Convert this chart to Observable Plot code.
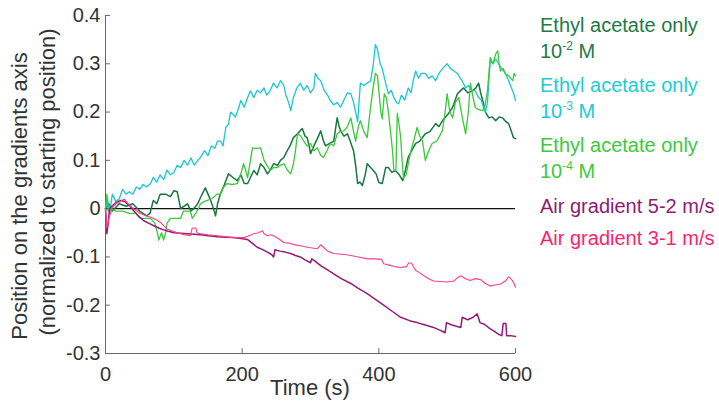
<!DOCTYPE html>
<html>
<head>
<meta charset="utf-8">
<script src="https://cdn.jsdelivr.net/npm/d3@7"></script>
<script src="https://cdn.jsdelivr.net/npm/@observablehq/plot@0.6"></script>
<style>
  html, body { margin: 0; padding: 0; background: #fff; }
  #chart svg { display: block; overflow: visible; }
</style>
</head>
<body>
<div id="chart"></div>
<script>
// ---------- data ----------
const xTicks = [0, 200, 400, 600];
const yTicks = [-0.3, -0.2, -0.1, 0, 0.1, 0.2, 0.3, 0.4];

const seriesNames = [
  "Ethyl acetate only 10-2 M",
  "Ethyl acetate only 10-3 M",
  "Ethyl acetate only 10-4 M",
  "Air gradient 5-2 m/s",
  "Air gradient 3-1 m/s"
];

// Ethyl acetate only 10^-2 M (dark green)
const tEA2 = [0,5,10,20,30,40,50,55,60,65,70,75,80,88,95,100,105,110,115,120,125,129,135,139,146,150,154,158,161,164,168,174,180,186,193,198,203,208,217,222,227,232,237,241,246,252,256,261,266,270,275,281,288,292,295,298,300,305,310,315,319,322,328,334,339,342,344,349,354,358,363,366,369,372,376,380,383,388,392,396,400,405,410,414,419,424,430,435,439,443,448,454,460,468,475,483,488,493,502,508,515,520,524,530,537,542,546,549,552,556,561,566,571,576,581,586,590,594,597,600];
const vEA2 = [0,0.01,-0.005,0.01,0.005,0.01,-0.005,-0.01,-0.015,-0.01,0.017,0.01,0.03,0.03,0.025,0.037,0.035,0,0.005,0.01,-0.005,0,0.01,0.023,0.043,0.03,0.017,0,-0.015,0.01,0.03,0.05,0.072,0.065,0.058,0.07,0.052,0.052,0.079,0.07,0.093,0.085,0.072,0.08,0.093,0.09,0.1,0.106,0.12,0.13,0.147,0.155,0.166,0.15,0.147,0.13,0.114,0.13,0.145,0.161,0.14,0.13,0.135,0.14,0.188,0.17,0.161,0.15,0.155,0.14,0.12,0.09,0.052,0.055,0.048,0.07,0.093,0.085,0.079,0.072,0.054,0.052,0.085,0.085,0.075,0.079,0.07,0.058,0.08,0.106,0.12,0.135,0.14,0.155,0.16,0.176,0.17,0.182,0.197,0.21,0.238,0.245,0.25,0.24,0.244,0.25,0.26,0.24,0.224,0.2,0.188,0.19,0.182,0.19,0.188,0.18,0.176,0.16,0.147,0.145];

// Ethyl acetate only 10^-3 M (cyan)
const tEA3 = [0,3,6,10,15,20,25,30,35,40,45,50,55,60,66,70,75,80,85,90,95,100,105,110,115,120,125,130,135,139,145,150,155,160,164,168,172,176,180,183,187,190,194,198,203,208,212,217,222,227,232,236,241,246,251,256,261,264,268,271,275,280,285,290,295,300,305,307,311,315,320,325,329,334,339,344,349,354,359,363,366,369,373,378,383,388,392,395,398,402,405,410,414,418,422,426,429,433,438,443,447,451,454,458,462,468,473,478,483,488,493,500,505,510,515,519,522,527,531,536,541,546,550,553,556,559,563,567,571,575,580,585,590,594,597,600];
const vEA3 = [0,0.02,-0.01,0.03,0.015,0.02,0.04,0.03,0.035,0.03,0.045,0.04,0.05,0.045,0.052,0.065,0.055,0.07,0.06,0.08,0.07,0.075,0.09,0.085,0.1,0.09,0.105,0.09,0.1,0.106,0.12,0.11,0.13,0.125,0.14,0.14,0.13,0.168,0.175,0.2,0.195,0.19,0.205,0.224,0.21,0.23,0.244,0.23,0.245,0.24,0.25,0.235,0.245,0.26,0.25,0.265,0.255,0.235,0.22,0.203,0.23,0.25,0.26,0.245,0.255,0.24,0.25,0.28,0.27,0.265,0.245,0.235,0.224,0.215,0.22,0.21,0.225,0.24,0.238,0.22,0.2,0.18,0.26,0.255,0.26,0.265,0.3,0.34,0.33,0.3,0.29,0.26,0.238,0.245,0.23,0.22,0.217,0.235,0.225,0.25,0.24,0.27,0.285,0.27,0.28,0.28,0.27,0.275,0.265,0.28,0.29,0.3,0.29,0.285,0.28,0.27,0.265,0.25,0.255,0.245,0.244,0.23,0.225,0.21,0.2,0.22,0.306,0.3,0.31,0.3,0.29,0.28,0.265,0.25,0.24,0.224];

// Ethyl acetate only 10^-4 M (light green)
const tEA4 = [0,2,4,8,15,25,35,45,51,60,66,72,76,78,82,85,88,90,95,105,110,114,120,124,127,132,136,139,145,149,154,158,163,168,173,178,185,193,198,202,205,208,211,215,220,227,232,236,241,246,251,256,261,266,271,275,278,281,286,290,295,300,305,310,315,319,324,329,334,339,344,349,354,359,363,366,370,373,378,383,387,391,395,398,400,403,405,408,411,414,417,420,422,425,427,429,432,434,436,440,443,447,451,456,460,464,468,473,478,485,493,497,500,504,508,512,517,522,527,531,534,538,541,546,552,555,559,563,567,571,574,576,578,582,585,590,596,598,600];
const vEA4 = [0,0.03,-0.005,0,-0.005,-0.005,-0.01,-0.01,-0.02,-0.02,-0.02,-0.03,-0.05,-0.065,-0.05,-0.065,-0.05,-0.03,-0.02,-0.02,-0.02,-0.005,-0.005,-0.005,-0.02,-0.01,0,0.01,0.015,0.017,0.02,0.023,0.03,0.03,0.045,0.052,0.05,0.052,0.072,0.093,0.08,0.064,0.09,0.126,0.125,0.126,0.1,0.09,0.079,0.085,0.085,0.09,0.093,0.08,0.072,0.093,0.12,0.155,0.15,0.14,0.13,0.135,0.12,0.126,0.11,0.106,0.12,0.135,0.13,0.155,0.16,0.161,0.17,0.188,0.16,0.14,0.17,0.182,0.16,0.147,0.2,0.244,0.28,0.275,0.244,0.2,0.186,0.238,0.23,0.2,0.161,0.12,0.079,0.08,0.197,0.18,0.147,0.1,0.064,0.07,0.093,0.12,0.14,0.168,0.15,0.14,0.1,0.12,0.135,0.14,0.161,0.2,0.238,0.2,0.188,0.22,0.23,0.19,0.155,0.2,0.26,0.23,0.21,0.205,0.203,0.21,0.244,0.313,0.3,0.32,0.327,0.3,0.285,0.29,0.28,0.275,0.265,0.28,0.275];

// Air gradient 5-2 m/s (purple)
const tAir52 = [0,2,4,6,10,15,22,28,32,36,41,48,56,63,70,78,85,92,100,110,120,130,139,150,164,175,187,198,208,215,222,230,237,243,246,248,255,263,271,278,285,292,300,302,306,315,325,334,345,359,370,383,395,407,420,432,445,456,468,480,490,497,499,505,512,520,522,530,538,544,548,555,562,568,575,580,582,586,587,593,600];
const vAir52 = [0,-0.052,-0.03,0,0.006,0.012,0.017,0.015,0.01,0.005,-0.004,-0.015,-0.025,-0.03,-0.035,-0.04,-0.044,-0.047,-0.05,-0.051,-0.052,-0.053,-0.054,-0.056,-0.058,-0.059,-0.06,-0.062,-0.064,-0.072,-0.08,-0.085,-0.09,-0.095,-0.1,-0.085,-0.088,-0.09,-0.093,-0.097,-0.1,-0.106,-0.112,-0.104,-0.108,-0.118,-0.127,-0.135,-0.145,-0.155,-0.165,-0.176,-0.188,-0.2,-0.213,-0.225,-0.232,-0.236,-0.241,-0.246,-0.252,-0.257,-0.236,-0.24,-0.243,-0.246,-0.225,-0.23,-0.225,-0.218,-0.236,-0.24,-0.248,-0.253,-0.26,-0.263,-0.238,-0.238,-0.263,-0.263,-0.265];

// Air gradient 3-1 m/s (pink)
const tAir31 = [0,2,5,10,15,22,27,32,37,41,46,51,58,66,73,80,85,90,97,105,115,124,127,132,134,139,150,164,175,187,195,202,208,217,224,230,232,237,242,246,254,261,270,278,285,292,300,310,315,319,325,334,342,350,359,370,383,395,404,407,415,423,432,440,444,448,454,460,466,473,480,490,500,510,515,520,527,534,540,549,556,563,570,578,585,590,595,598,600];
const vAir31 = [0,-0.04,-0.02,0.002,0.01,0.015,0.02,0.012,0.005,0,-0.005,-0.01,-0.014,-0.018,-0.022,-0.028,-0.035,-0.042,-0.046,-0.05,-0.054,-0.056,-0.04,-0.04,-0.05,-0.052,-0.054,-0.056,-0.058,-0.06,-0.06,-0.06,-0.057,-0.052,-0.05,-0.046,-0.052,-0.056,-0.054,-0.056,-0.063,-0.07,-0.072,-0.075,-0.077,-0.079,-0.081,-0.083,-0.075,-0.08,-0.088,-0.093,-0.094,-0.095,-0.097,-0.1,-0.104,-0.104,-0.105,-0.114,-0.117,-0.12,-0.122,-0.12,-0.112,-0.113,-0.128,-0.133,-0.139,-0.145,-0.15,-0.151,-0.152,-0.15,-0.143,-0.139,-0.145,-0.149,-0.145,-0.147,-0.155,-0.16,-0.158,-0.156,-0.15,-0.141,-0.148,-0.155,-0.163];

const seriesColors = ["#17773f", "#19c7cf", "#3ac93a", "#941b78", "#ff3f86"];
const legendColors = ["#1e7a44", "#1dcbd3", "#3dc93d", "#8f1b73", "#ff1f6b"];
const seriesWidths = [1.5, 1.3, 1.3, 1.5, 1.1];

// ---------- build table ----------
const times = [tEA2, tEA3, tEA4, tAir52, tAir31];
const values = [vEA2, vEA3, vEA4, vAir52, vAir31];
const rows = seriesNames.map((name, k) => times[k].map((t, i) => ({name, t, v: values[k][i]})));

const fmt = d => Math.abs(d) < 1e-9 ? "0" : String(+d.toFixed(1));
const font = "'Liberation Sans', Arial, sans-serif";

const svg = Plot.plot({
  width: 719,
  height: 403,
  marginLeft: 105,
  marginRight: 204,
  marginTop: 15,
  marginBottom: 50,
  style: {fontFamily: font, fontSize: "20px", color: "#333", background: "#fff"},
  x: {domain: [0, 600]},
  y: {domain: [-0.3, 0.4]},
  marks: [
    // axis lines
    Plot.ruleX([0], {stroke: "#666", strokeWidth: 1}),
    Plot.ruleY([-0.3], {stroke: "#666", strokeWidth: 1}),
    // inward ticks
    Plot.ruleY(yTicks, {y: d => d, x1: 0, x2: 7, stroke: "#666"}),
    Plot.ruleX(xTicks, {x: d => d, y1: -0.3, y2: -0.29, stroke: "#666"}),
    Plot.axisY({ticks: yTicks, tickSize: 0, tickPadding: 5, tickFormat: fmt, label: null, fontSize: 20, fill: "#333"}),
    Plot.axisX({ticks: xTicks, tickSize: 0, tickPadding: 13, tickFormat: d => String(d), label: null, fontSize: 20, fill: "#333"}),
    // zero line
    Plot.ruleY([0], {stroke: "#111", strokeWidth: 1.2}),
    // series
    ...rows.map((data, k) => Plot.line(data, {x: "t", y: "v", stroke: seriesColors[k], strokeWidth: seriesWidths[k]}))
  ]
});

document.getElementById("chart").appendChild(svg);

// ---------- axis titles & legend (text) ----------
const s = d3.select(svg);
s.append("text")
  .attr("x", 310).attr("y", 395)
  .attr("text-anchor", "middle")
  .attr("font-family", font).attr("font-size", 22).attr("fill", "#333")
  .text("Time (s)");

s.append("text")
  .attr("transform", "translate(27,196) rotate(-90)")
  .attr("text-anchor", "middle")
  .attr("font-family", font).attr("font-size", 22).attr("fill", "#333")
  .text("Position on the gradients axis");
s.append("text")
  .attr("transform", "translate(55,182) rotate(-90)")
  .attr("text-anchor", "middle")
  .attr("font-family", font).attr("font-size", 22).attr("fill", "#333")
  .text("(normalized to starting position)");

const legendLines = [
  {k: 0, y: 32, text: "Ethyl acetate only"},
  {k: 0, y: 58, base: "10", sup: "-2", rest: " M"},
  {k: 1, y: 92, text: "Ethyl acetate only"},
  {k: 1, y: 118, base: "10", sup: "-3", rest: " M"},
  {k: 2, y: 152, text: "Ethyl acetate only"},
  {k: 2, y: 178, base: "10", sup: "-4", rest: " M"},
  {k: 3, y: 213, text: "Air gradient 5-2 m/s"},
  {k: 4, y: 245, text: "Air gradient 3-1 m/s"}
];
legendLines.forEach(l => {
  const t = s.append("text")
    .attr("x", 540).attr("y", l.y)
    .attr("text-anchor", "start")
    .attr("font-family", font).attr("font-size", 20)
    .attr("fill", legendColors[l.k]);
  if (l.text) { t.text(l.text); return; }
  t.append("tspan").text(l.base);
  t.append("tspan").attr("dy", -8).attr("font-size", 12).text(l.sup);
  t.append("tspan").attr("dy", 8).text(l.rest);
});
</script>
</body>
</html>
